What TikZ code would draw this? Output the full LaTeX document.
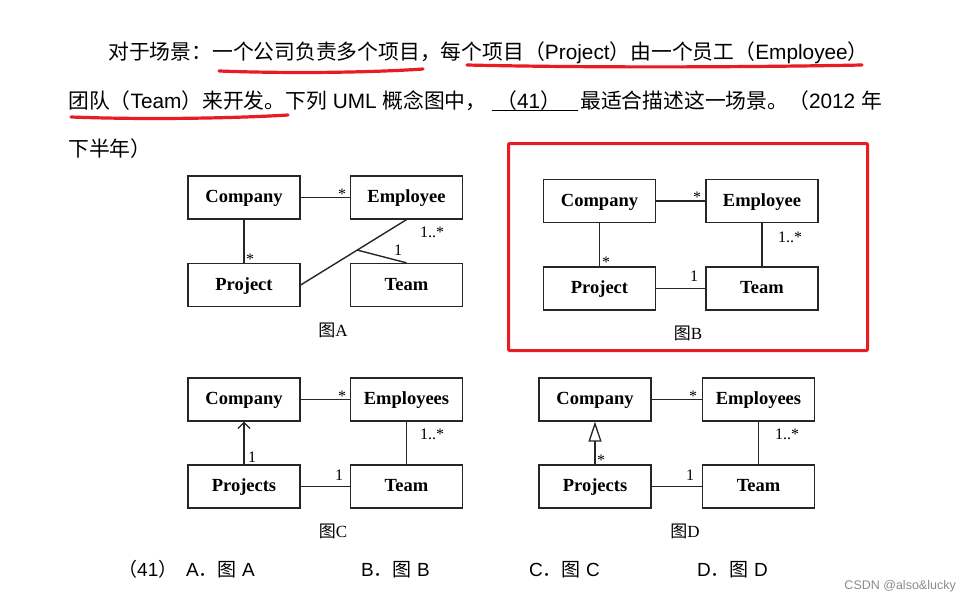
\documentclass[tikz,border=0pt]{standalone}
\usepackage{fontspec}
\setmainfont{Liberation Sans}
\newfontfamily\cjk{Noto Sans CJK SC}
\newfontfamily\boxserif{Liberation Serif}
\usetikzlibrary{arrows.meta}
\newcommand{\Cn}[1]{{\cjk #1}}
\definecolor{markred}{RGB}{232,28,36}
\tikzset{
  umlbox/.style={draw=black!85, line width=1.3pt, fill=white, minimum width=112pt, minimum height=43pt, inner sep=0pt,
    text height=12.5pt, text depth=2pt,
    font=\boxserif\bfseries\fontsize{18.5}{20}\selectfont},
  assoc/.style={draw=black!85, line width=1.4pt},
  mult/.style={font=\boxserif\fontsize{16}{16}\selectfont, inner sep=0pt},
  figcap/.style={font=\fontsize{17}{18}\selectfont, inner sep=0pt},
  para/.style={font=\fontsize{20.8}{24}\selectfont, inner sep=0pt, anchor=base west},
  opt/.style={font=\fontsize{19}{22}\selectfont, inner sep=0pt, anchor=base west},
  redline/.style={draw=markred, line width=3.2pt, line cap=round},
}
\begin{document}
\begin{tikzpicture}[x=1pt,y=-1pt]
\useasboundingbox[fill=white] (0,0) rectangle (970,602);

% ---- question text ----
\node[para] (l1) at (108,60) {\Cn{对于场景：一个公司负责多个项目，每个项目（}Project\Cn{）由一个员工（}Employee\Cn{）}};
\node[para] (l2a) at (68,109) {\Cn{团队（}Team\Cn{）来开发。下列} UML \Cn{概念图中，}};
\node[para] (l2b) at (496,109) {\Cn{（}41\Cn{）}};
\node[para] (l2c) at (580,109) {\Cn{最适合描述这一场景。（}2012 \Cn{年}};
\node[para] (l3) at (68,156) {\Cn{下半年）}};
\coordinate (ul1) at (492,111);
\coordinate (ul2) at (578,111);
\draw[line width=1pt] (ul1) -- (ul2);

% red hand-drawn underlines
\coordinate (r1a) at (219,71); \coordinate (r1b) at (423,69);
\coordinate (r2a) at (467,65); \coordinate (r2b) at (862,65);
\coordinate (r3a) at (71,117); \coordinate (r3b) at (288,115);
\draw[redline] (r1a) .. controls (300,74) and (380,72) .. (r1b);
\draw[redline] (r2a) .. controls (600,68) and (760,67) .. (r2b);
\draw[redline] (r3a) .. controls (150,120) and (240,118) .. (r3b);

% ---- Diagram A ----
\node[umlbox] (Aco) at (244,197.5) {Company};
\node[umlbox] (Aem) at (406.5,197.5) {Employee};
\node[umlbox] (Apr) at (244,285) {Project};
\node[umlbox] (Ate) at (406.5,285) {Team};
\draw[assoc] (Aco.east) -- (Aem.west);
\draw[assoc] (Aco.south) -- (Apr.north);
\coordinate (Ax) at (357,250);
\draw[assoc] (Apr.east) -- (Aem.south);
\draw[assoc] (Ax) -- (Ate.north);
\node[mult] (Am1) at (342,194) {*};
\node[mult] (Am2) at (250,259) {*};
\node[mult] (Am3) at (398,250) {1};
\node[mult] (Am4) at (432,232) {1..*};
\node[figcap] (Acap) at (333,330) {\Cn{图}\boxserif A};

% ---- Diagram B ----
\node[draw=markred, line width=3pt, minimum width=359pt, minimum height=207pt, rounded corners=1pt] (Bframe) at (688,247) {};
\node[umlbox] (Bco) at (599.5,201) {Company};
\node[umlbox] (Bem) at (762,201) {Employee};
\node[umlbox] (Bpr) at (599.5,288.5) {Project};
\node[umlbox] (Bte) at (762,288.5) {Team};
\draw[assoc] (Bco.east) -- (Bem.west);
\draw[assoc] (Bco.south) -- (Bpr.north);
\draw[assoc] (Bem.south) -- (Bte.north);
\draw[assoc] (Bpr.east) -- (Bte.west);
\node[mult] (Bm1) at (697,197) {*};
\node[mult] (Bm2) at (606,262) {*};
\node[mult] (Bm3) at (790,237) {1..*};
\node[mult] (Bm4) at (694,276) {1};
\node[figcap] (Bcap) at (688,333) {\Cn{图}\boxserif B};

% ---- Diagram C ----
\node[umlbox] (Cco) at (244,399.5) {Company};
\node[umlbox] (Cem) at (406.5,399.5) {Employees};
\node[umlbox] (Cpr) at (244,486.5) {Projects};
\node[umlbox] (Cte) at (406.5,486.5) {Team};
\draw[assoc] (Cco.east) -- (Cem.west);
\draw[assoc, -{Straight Barb[length=6pt,width=12pt,line width=1.3pt]}] (Cpr.north) -- (Cco.south);
\draw[assoc] (Cem.south) -- (Cte.north);
\draw[assoc] (Cpr.east) -- (Cte.west);
\node[mult] (Cm1) at (342,396) {*};
\node[mult] (Cm2) at (252,457) {1};
\node[mult] (Cm3) at (432,434) {1..*};
\node[mult] (Cm4) at (339,475) {1};
\node[figcap] (Ccap) at (333,531) {\Cn{图}\boxserif C};

% ---- Diagram D ----
\node[umlbox] (Dco) at (595,399.5) {Company};
\node[umlbox] (Dem) at (758.5,399.5) {Employees};
\node[umlbox] (Dpr) at (595,486.5) {Projects};
\node[umlbox] (Dte) at (758.5,486.5) {Team};
\draw[assoc] (Dco.east) -- (Dem.west);
\draw[assoc, -{Triangle[open,length=20pt,width=13pt,line width=1.3pt]}] (Dpr.north) -- (Dco.south);
\draw[assoc] (Dem.south) -- (Dte.north);
\draw[assoc] (Dpr.east) -- (Dte.west);
\node[mult] (Dm1) at (693,396) {*};
\node[mult] (Dm2) at (601,460) {*};
\node[mult] (Dm3) at (787,434) {1..*};
\node[mult] (Dm4) at (690,475) {1};
\node[figcap] (Dcap) at (685,531) {\Cn{图}\boxserif D};

% ---- answer options ----
\node[opt] (o0) at (118,576) {\Cn{（}41\Cn{）}};
\node[opt] (oA) at (186,576) {A\Cn{．图} A};
\node[opt] (oB) at (361,576) {B\Cn{．图} B};
\node[opt] (oC) at (529,576) {C\Cn{．图} C};
\node[opt] (oD) at (697,576) {D\Cn{．图} D};
\node[font=\fontsize{12.5}{13}\selectfont, text=black!45, anchor=base east, inner sep=0pt] (wm) at (956,589) {CSDN @also\&lucky};
\end{tikzpicture}
\end{document}
